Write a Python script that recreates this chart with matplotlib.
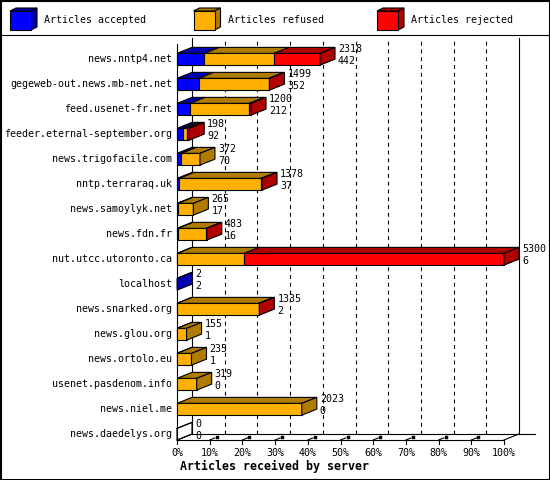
import matplotlib
matplotlib.use('Agg')
import matplotlib.pyplot as plt
from matplotlib.patches import Polygon, Rectangle

# data
servers = ['news.nntp4.net', 'gegeweb-out.news.mb-net.net', 'feed.usenet-fr.net',
           'feeder.eternal-september.org', 'news.trigofacile.com', 'nntp.terraraq.uk',
           'news.samoylyk.net', 'news.fdn.fr', 'nut.utcc.utoronto.ca', 'localhost',
           'news.snarked.org', 'news.glou.org', 'news.ortolo.eu', 'usenet.pasdenom.info',
           'news.niel.me', 'news.daedelys.org']
accepted = [442, 352, 212, 92, 70, 37, 17, 16, 6, 2, 2, 1, 1, 0, 0, 0]
refused = [1131, 1140, 960, 65, 302, 1330, 248, 460, 1083, 0, 1320, 154, 234, 319, 2023, 0]
rejected = [745, 7, 28, 41, 0, 11, 0, 7, 4211, 0, 13, 0, 0, 0, 0, 0]
tick_labels = ['0%', '10%', '20%', '30%', '40%', '50%', '60%', '70%', '80%', '90%', '100%']
legend_labels = ['Articles accepted', 'Articles refused', 'Articles rejected']
xlabel = 'Articles received by server'

FRONT = ['#0000ff', '#ffb000', '#ff0000']
SHADE = ['#0000b0', '#b07c00', '#b00000']
FONT = 'DejaVu Sans Mono'
FS = 7.2
LW = 0.8

totals = [a + r + j for a, r, j in zip(accepted, refused, rejected)]
xmax = max(totals)

fig = plt.figure(figsize=(5.5, 4.8), dpi=100)
fig.patch.set_facecolor('white')

# background layer in pixel coordinates: border and legend
bg = fig.add_axes([0, 0, 1, 1])
bg.set_xlim(0, 550)
bg.set_ylim(480, 0)
bg.axis('off')
bg.add_patch(Rectangle((0.5, 0.5), 549, 479, fill=False, ec='black', lw=1.5))
bg.plot([0, 550], [34.5, 34.5], color='black', lw=LW)

for k, label in enumerate(legend_labels):
    x0 = 10 + k * 183.5
    y0, w, h, d, e = 11, 21, 19, 6, 3
    bg.add_patch(Polygon([(x0, y0), (x0 + w, y0), (x0 + w + d, y0 - e), (x0 + d, y0 - e)],
                         closed=True, fc=SHADE[k], ec='black', lw=LW))
    bg.add_patch(Polygon([(x0 + w, y0), (x0 + w + d, y0 - e), (x0 + w + d, y0 + h - e), (x0 + w, y0 + h)],
                         closed=True, fc=SHADE[k], ec='black', lw=LW))
    bg.add_patch(Rectangle((x0, y0), w, h, fc=FRONT[k], ec='black', lw=LW))
    bg.text(x0 + 34, 20, label, family=FONT, fontsize=FS, ha='left', va='center')

bg.text(180, 466, xlabel, family=FONT, fontsize=8.4, fontweight='bold', ha='left', va='center')

# main plot area (front face of the 3d box)
ax = fig.add_axes([177 / 550, 40 / 480, 327 / 550, 396 / 480])
ytop, yfloor = -0.61, 15.23
ax.set_xlim(0, xmax)
ax.set_ylim(yfloor, ytop)
ax.axis('off')

px_x = xmax / 327.0
px_y = (yfloor - ytop) / 396.0
ddx = 15 * px_x
ddy = 6 * px_y
bh = 0.47

line_kw = dict(color='black', lw=LW, clip_on=False)
# walls and floor
ax.plot([0, 0], [yfloor, ytop], **line_kw)
ax.plot([ddx, ddx], [yfloor - ddy, ytop - ddy], **line_kw)
ax.plot([xmax + ddx, xmax + ddx], [yfloor - ddy, ytop - ddy], **line_kw)
ax.plot([0, xmax], [yfloor, yfloor], **line_kw)
ax.plot([ddx, xmax + ddx + 16 * px_x], [yfloor - ddy, yfloor - ddy], **line_kw)
ax.plot([0, ddx], [yfloor, yfloor - ddy], **line_kw)
ax.plot([xmax, xmax + ddx], [yfloor, yfloor - ddy], **line_kw)

for k, lab in enumerate(tick_labels):
    xv = k * xmax / 10
    if 0 < k < 10:
        ax.plot([xv + ddx, xv + ddx], [yfloor - ddy, ytop - ddy], color='black', lw=LW,
                linestyle=(0, (3.5, 3.5)), clip_on=False, zorder=1)
    ax.plot([xv, xv], [yfloor, yfloor + 4 * px_y], **line_kw)
    if 0 < k < 10:
        ax.plot([xv, xv + 5 * px_x], [yfloor, yfloor - 2 * px_y], **line_kw)
        ax.add_patch(Rectangle((xv + 6 * px_x, yfloor - 4 * px_y), 3 * px_x, 3 * px_y,
                               fc='black', ec='black', lw=0.3, clip_on=False))
    ax.annotate(lab, (xv, yfloor), xytext=(0, -13), textcoords='offset pixels',
                family=FONT, fontsize=FS, ha='center', va='center', annotation_clip=False)

# bars
for i, name in enumerate(servers):
    segs = [accepted[i], refused[i], rejected[i]]
    top, bot = i - bh / 2, i + bh / 2
    left = 0
    last = None
    for k, w in enumerate(segs):
        if w <= 0:
            continue
        ax.add_patch(Polygon([(left, top), (left + w, top), (left + w + ddx, top - ddy), (left + ddx, top - ddy)],
                             closed=True, fc=SHADE[k], ec='black', lw=LW, clip_on=False, zorder=3))
        ax.add_patch(Rectangle((left, top), w, bh, fc=FRONT[k], ec='black', lw=LW,
                               clip_on=False, zorder=3))
        left += w
        last = k
    side_fc = SHADE[last] if last is not None else 'none'
    ax.add_patch(Polygon([(left, top), (left + ddx, top - ddy), (left + ddx, bot - ddy), (left, bot)],
                         closed=True, fc=side_fc, ec='black', lw=LW, clip_on=False, zorder=3))
    if last is None:
        ax.plot([0, ddx], [top, top - ddy], **line_kw)

    ax.annotate(name, (0, i), xytext=(-5, 0), textcoords='offset pixels',
                family=FONT, fontsize=FS, ha='right', va='center', annotation_clip=False)
    ax.annotate(str(totals[i]), (totals[i], i), xytext=(18, 10), textcoords='offset pixels',
                family=FONT, fontsize=FS, ha='left', va='center', annotation_clip=False)
    ax.annotate(str(accepted[i]), (totals[i], i), xytext=(18, -1.5), textcoords='offset pixels',
                family=FONT, fontsize=FS, ha='left', va='center', annotation_clip=False)

fig.savefig('out.png', dpi=100)
